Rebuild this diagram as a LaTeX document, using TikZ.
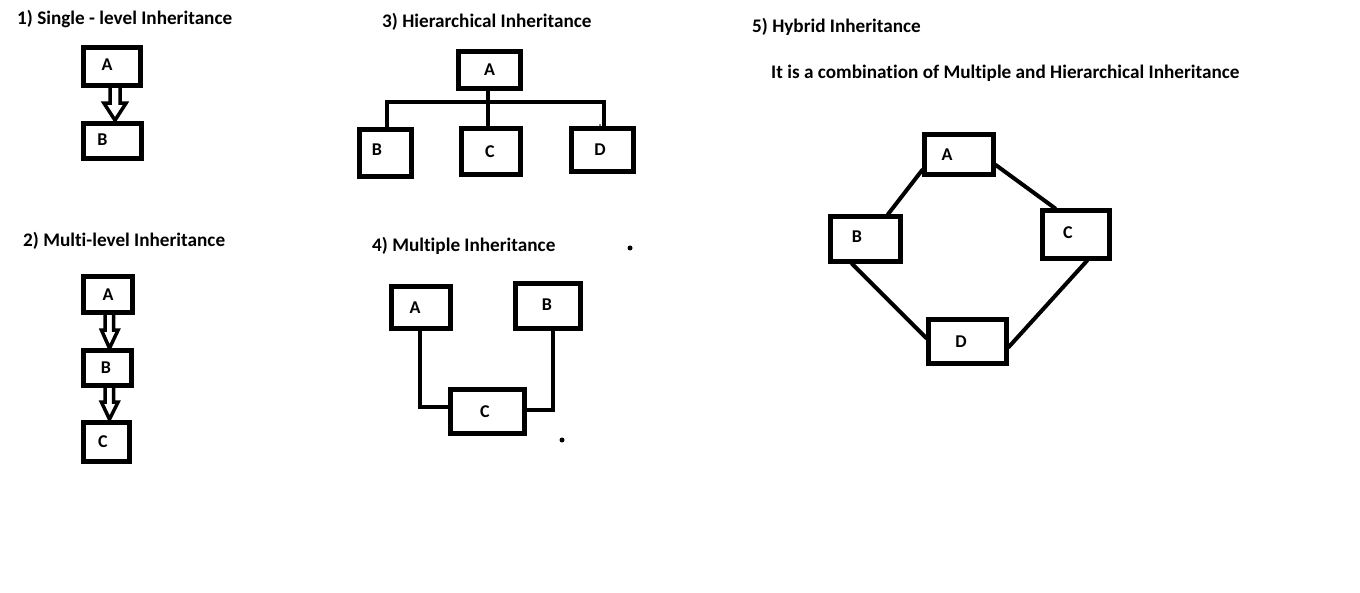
\documentclass[tikz,border=0pt]{standalone}
\usepackage{fontspec}
\setmainfont[Ligatures=NoCommon]{Carlito}
\usetikzlibrary{calc}
\begin{document}
\begin{tikzpicture}[x=1pt,y=-1pt,
  box/.style={draw, line width=4.5pt, inner sep=0pt, font=\bfseries\fontsize{18}{21}\selectfont},
  title/.style={anchor=base west, inner sep=0pt, font=\bfseries\fontsize{19.2}{22}\selectfont},
  conn/.style={line width=4pt, line cap=round},
  hollow/.style={line width=3.5pt, line join=miter},
  dot/.style={fill=black}]
\useasboundingbox[fill=white] (0,0) rectangle (1360,593);

% titles
\node[title] (t1) at (17,24.5) {1) Single - level Inheritance};
\node[title] (t2) at (23,246.5) {2) Multi-level Inheritance};
\node[title] (t3) at (382,27.5) {3) Hierarchical Inheritance};
\node[title] (t4) at (372,251.5) {4) Multiple Inheritance};
\node[title] (t5) at (752,32.5) {5) Hybrid Inheritance};
\node[title] (t6) at (771,78.5) {It is a combination of Multiple and Hierarchical Inheritance};

% 1) single
\node[box, minimum width=57, minimum height=38] (A1) at (112,66.5) {\kern-10pt\raisebox{3pt}{A}};
\node[box, minimum width=58, minimum height=35] (B1) at (112.5,141) {\kern-20pt\raisebox{2pt}{B}};
\draw[hollow] let \p1=(A1.south), \p2=(B1.north) in
  ({\x1-2pt},\y1) -- ({\x1-2pt},{\y2+18pt}) -- ({\x1-8pt},{\y2+18pt}) -- ({\x1+3pt},{\y2+1pt})
  -- ({\x1+14pt},{\y2+18pt}) -- ({\x1+8pt},{\y2+18pt}) -- ({\x1+8pt},\y1);

% 2) multi-level
\node[box, minimum width=49, minimum height=36] (A2) at (108,294.5) {A};
\node[box, minimum width=48, minimum height=35] (B2) at (107.5,368) {\kern-3pt B};
\node[box, minimum width=46, minimum height=39] (C2) at (106.5,442) {\kern-7pt\raisebox{1pt}{C}};
\draw[hollow] let \p1=(A2.south), \p2=(B2.north) in
  ({\x1-3pt},\y1) -- ({\x1-3pt},{\y2+18pt}) -- ({\x1-6.5pt},{\y2+18pt}) -- ({\x1+1.5pt},{\y2+0pt})
  -- ({\x1+10pt},{\y2+18pt}) -- ({\x1+5.5pt},{\y2+18pt}) -- ({\x1+5.5pt},\y1);
\draw[hollow] let \p1=(B2.south), \p2=(C2.north) in
  ({\x1-2.5pt},\y1) -- ({\x1-2.5pt},{\y2+18pt}) -- ({\x1-6pt},{\y2+18pt}) -- ({\x1+2pt},{\y2+1pt})
  -- ({\x1+10.5pt},{\y2+18pt}) -- ({\x1+6pt},{\y2+18pt}) -- ({\x1+6pt},\y1);

% 3) hierarchical
\node[box, minimum width=62, minimum height=37] (A3) at (489.5,70) {\raisebox{-1pt}{A}};
\node[box, minimum width=52, minimum height=47] (B3) at (385.5,153) {\kern-17pt\raisebox{7pt}{B}};
\node[box, minimum width=59, minimum height=46] (C3) at (491,151.5) {\kern-2pt\raisebox{-5.5pt}{C}};
\node[box, minimum width=62, minimum height=43] (D3) at (602.5,150) {\kern-5pt D};
\coordinate (bar) at (488,102);
\draw[conn] (A3.south -| bar) -- (bar);
\draw[conn] ([xshift=1.5pt]B3.north) |- ([xshift=1.5pt]D3.north |- bar) -- ([xshift=1.5pt]D3.north);
\draw[conn] (bar) -- (bar |- C3.north);
\fill[dot] (600,125) circle (0.8);

% 4) multiple
\node[box, minimum width=59, minimum height=42] (A4) at (421,307.5) {\kern-12pt\raisebox{-1.5pt}{A}};
\node[box, minimum width=65, minimum height=45] (B4) at (548,306) {\kern-2pt\raisebox{3pt}{B}};
\node[box, minimum width=74, minimum height=44] (C4) at (487.5,411.5) {\kern-5pt\raisebox{-2.5pt}{C}};
\draw[conn] ([xshift=-1pt]A4.south) |- ([yshift=4.5pt]C4.west);
\draw[conn] ([xshift=5pt]B4.south) |- ([yshift=1.5pt]C4.east);
\fill[dot] (562,440) circle (2.5);
\fill[dot] (630,248) circle (2.5);

% 5) hybrid
\node[box, minimum width=69, minimum height=40] (A5) at (959,154.5) {\kern-24pt A};
\node[box, minimum width=70, minimum height=45] (B5) at (865.5,239) {\kern-17pt\raisebox{5pt}{B}};
\node[box, minimum width=67, minimum height=48] (C5) at (1076,234.5) {\kern-16pt\raisebox{3.5pt}{C}};
\node[box, minimum width=78, minimum height=44] (D5) at (967.5,341.5) {\kern-13pt\raisebox{-1.5pt}{D}};
\draw[conn] ([yshift=-15.5pt]A5.west) -- ([xshift=22.5pt]B5.north);
\draw[conn] ([yshift=-10.5pt]A5.east) -- ([xshift=-21pt]C5.north);
\draw[conn] ([xshift=-13.5pt]B5.south) -- ([yshift=3.5pt]D5.west);
\draw[conn] ([xshift=11pt]C5.south) -- ([yshift=-5.5pt]D5.east);
\end{tikzpicture}
\end{document}
